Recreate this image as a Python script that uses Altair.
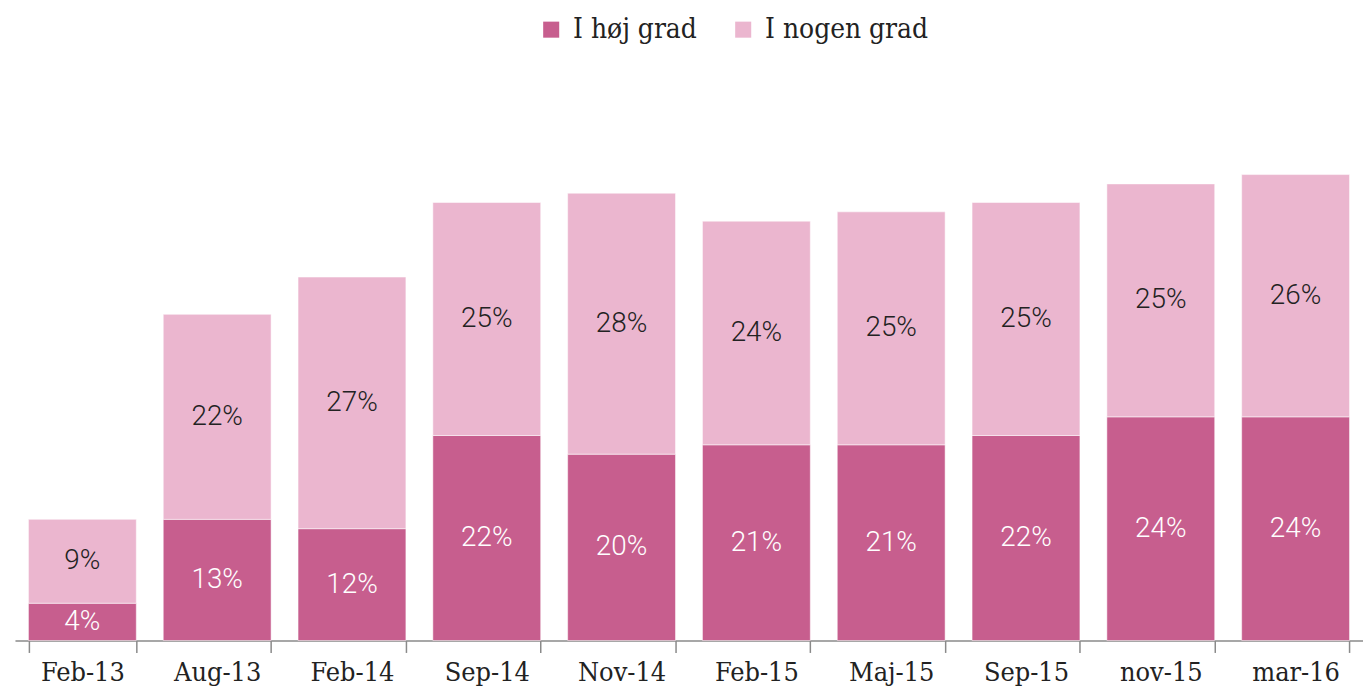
import altair as alt
import pandas as pd

categories = ["Feb-13", "Aug-13", "Feb-14", "Sep-14", "Nov-14", "Feb-15", "Maj-15", "Sep-15", "nov-15", "mar-16"]
hoj_grad = [4, 13, 12, 22, 20, 21, 21, 22, 24, 24]
nogen_grad = [9, 22, 27, 25, 28, 24, 25, 25, 25, 26]
series = ["I høj grad", "I nogen grad"]
colors = ["#C75E8E", "#EBB6CF"]

rows = []
for i, c in enumerate(categories):
    rows.append({"cat": c, "serie": series[0], "val": hoj_grad[i], "ord": 0})
    rows.append({"cat": c, "serie": series[1], "val": nogen_grad[i], "ord": 1})
df = pd.DataFrame(rows)

base = alt.Chart(df).transform_stack(
    stack="val", groupby=["cat"], as_=["y0", "y1"], sort=[alt.SortField("ord", order="ascending")]
).transform_calculate(
    mid="(datum.y0 + datum.y1) / 2",
    label="datum.val + '%'"
)

xenc = alt.X("cat:N", sort=categories, title=None,
             scale=alt.Scale(paddingInner=0.2, paddingOuter=0.1),
             axis=alt.Axis(labelAngle=0, labelFont="DejaVu Serif Condensed", labelFontSize=27,
                           labelColor="#222222", domainColor="#8a8a8a", domainWidth=1.5,
                           tickColor="#8a8a8a", tickWidth=1.5, tickSize=12, tickBand="extent",
                           labelPadding=7, grid=False))

yscale = alt.Scale(domain=[0, 60], nice=False)

bars = base.mark_bar(stroke="white", strokeWidth=0.5).encode(
    x=xenc,
    y=alt.Y("y0:Q", scale=yscale, axis=None),
    y2="y1:Q",
    color=alt.Color("serie:N", sort=series, scale=alt.Scale(domain=series, range=colors),
                    legend=alt.Legend(title=None, orient="none", direction="horizontal",
                                      legendX=525, legendY=-66, symbolType="square",
                                      symbolSize=260, symbolStrokeWidth=0,
                                      labelFont="DejaVu Serif Condensed", labelFontSize=28,
                                      labelColor="#222222", columnPadding=32, labelOffset=8,
                                      labelLimit=400)),
)

text = base.mark_text(font="Roboto", fontSize=28, fontWeight=300, baseline="middle").encode(
    x=alt.X("cat:N", sort=categories),
    y=alt.Y("mid:Q", scale=yscale),
    text="label:N",
    color=alt.Color("serie:N", scale=alt.Scale(domain=series, range=["#ffffff", "#222222"]), legend=None),
)

chart = alt.layer(bars, text).resolve_scale(color="independent").properties(
    width=1355, height=562,
    autosize=alt.AutoSizeParams(type="none"),
    padding={"left": 7, "top": 72, "right": 0, "bottom": 50},
).configure_view(stroke=None)

chart.save("out.html", embed_options={"renderer": "svg", "actions": False})
